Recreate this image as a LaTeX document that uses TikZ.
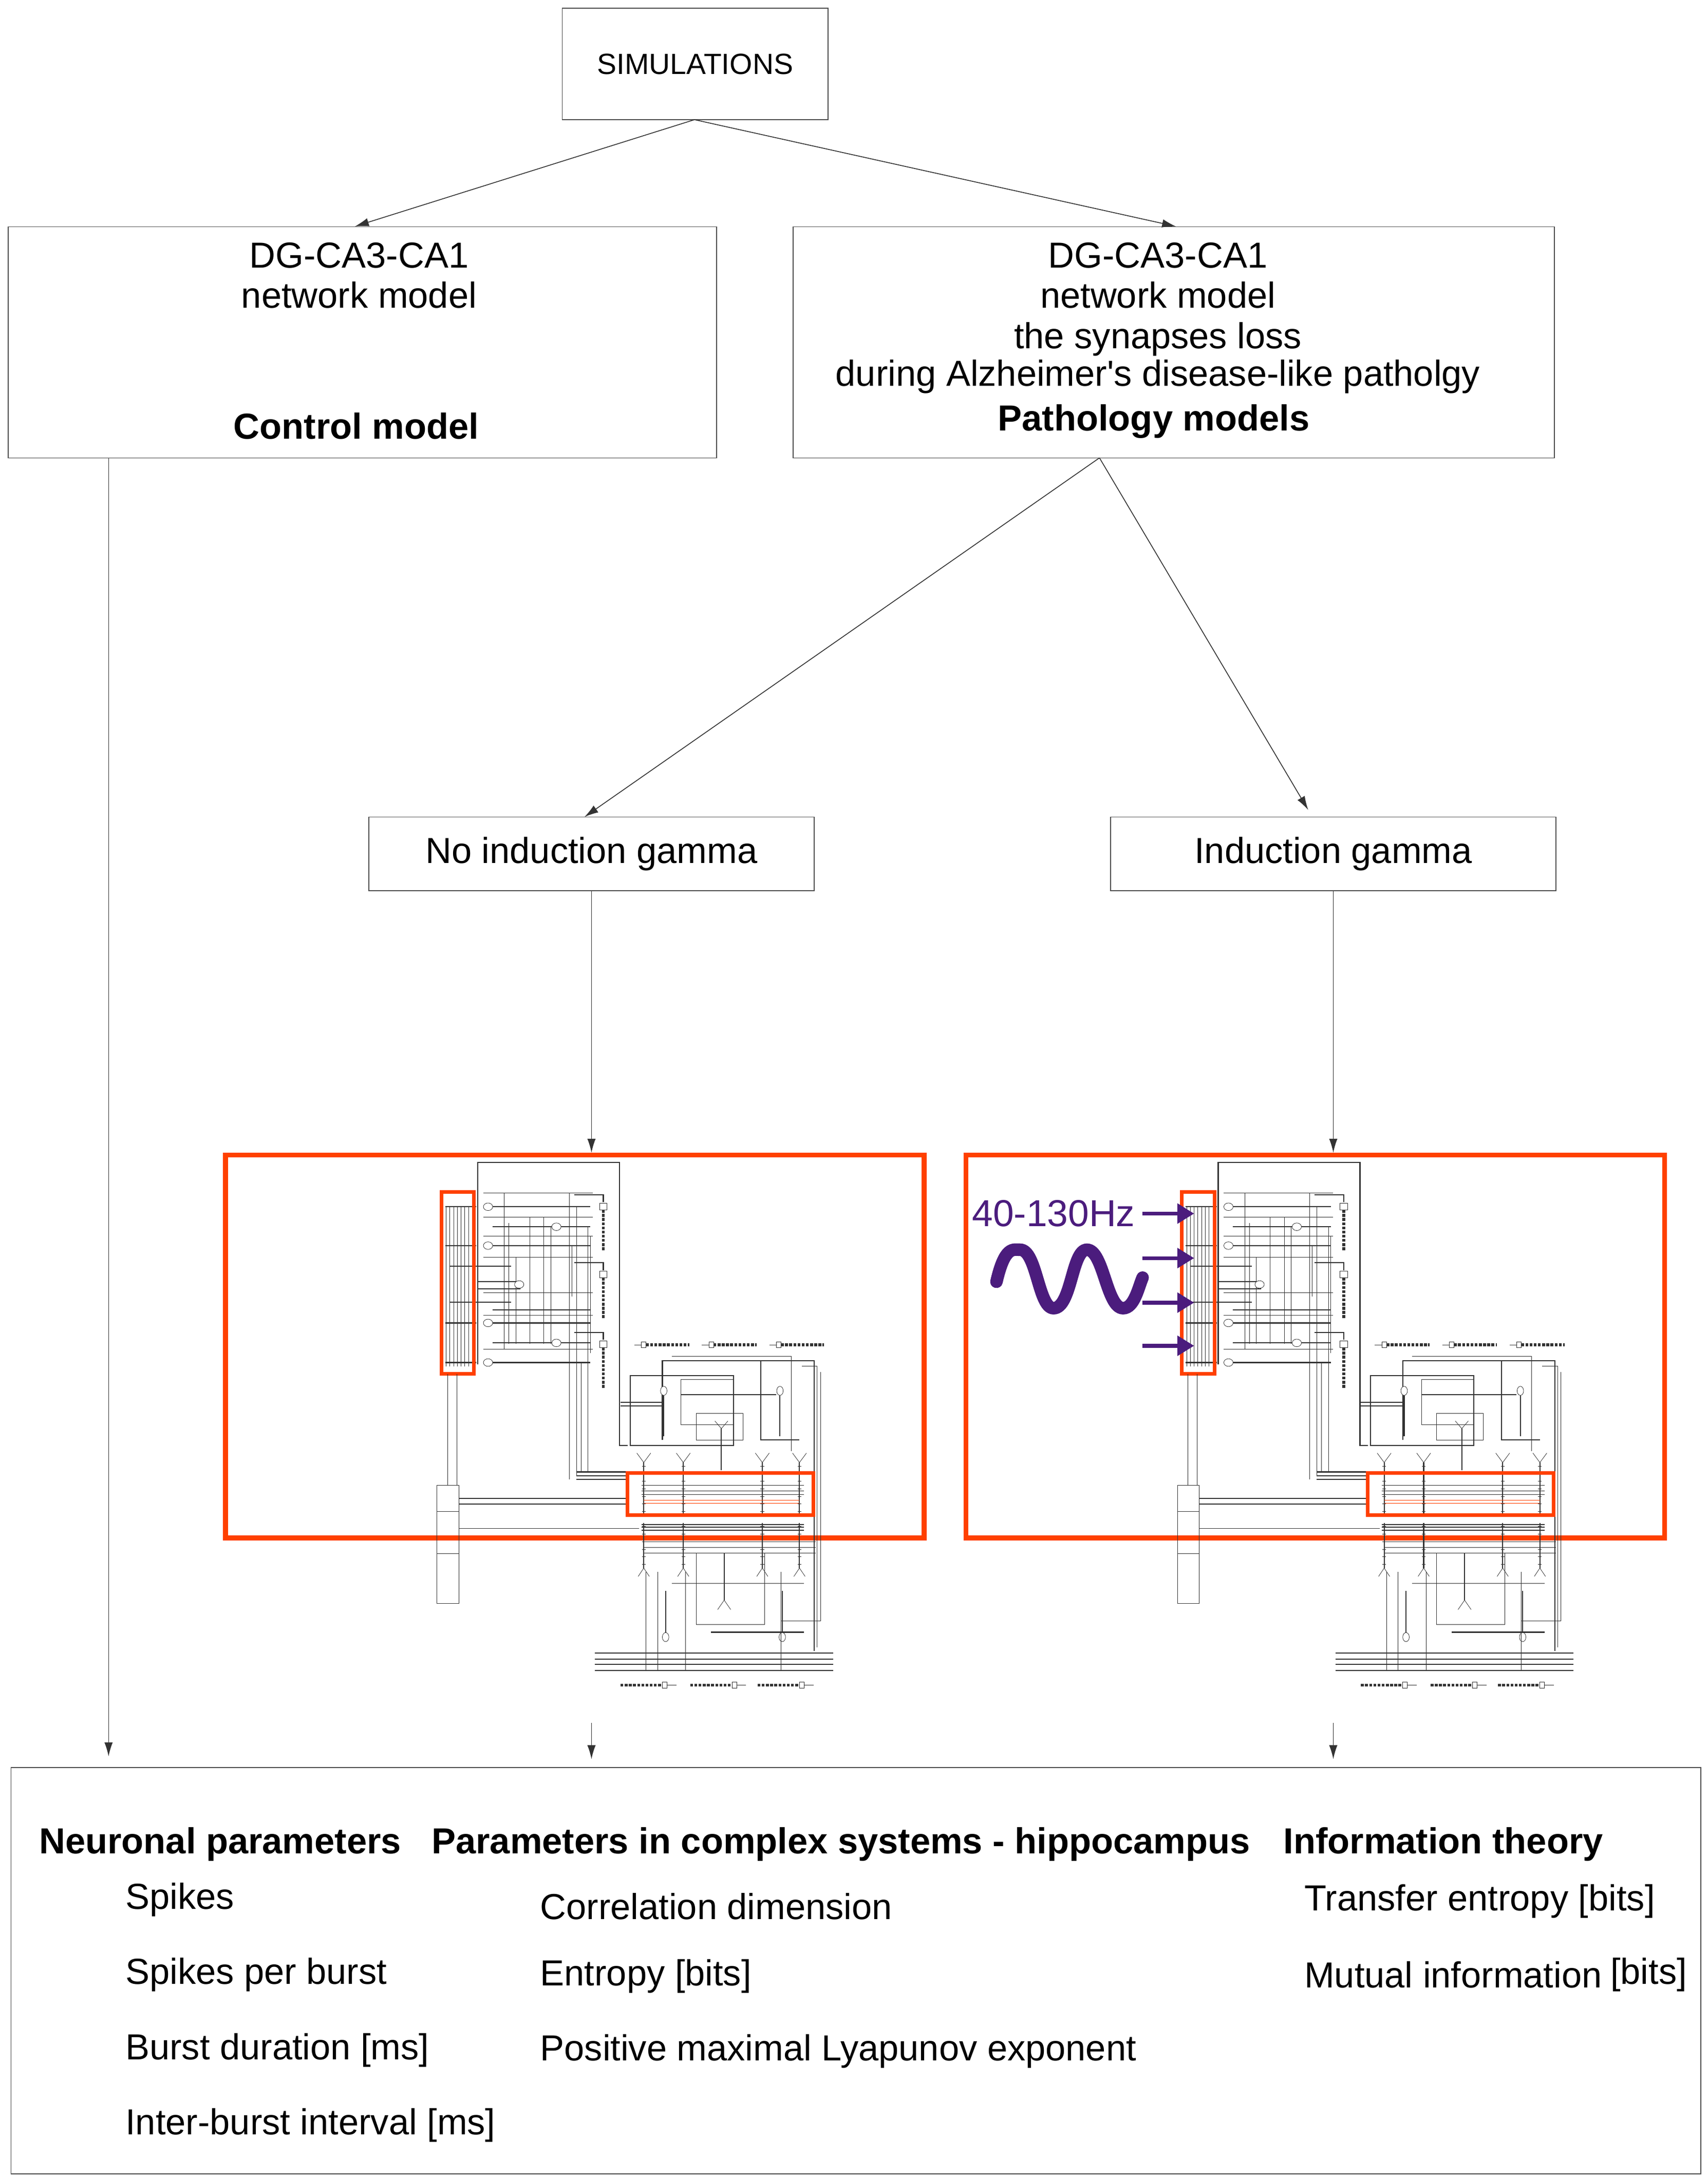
\documentclass[tikz,border=0pt]{standalone}
\usepackage{fontspec}
\setmainfont{Liberation Sans}
\usetikzlibrary{arrows.meta,positioning}
\definecolor{netred}{HTML}{FF4000}
\definecolor{gammapurple}{HTML}{4B1C7D}
\definecolor{netgray}{HTML}{333333}
\tikzset{
  box/.style = {draw=black!70, line width=0.6pt, rectangle},
  label/.style = {font=\fontsize{26}{29}\selectfont, align=center, inner sep=0pt},
  item/.style = {font=\fontsize{26}{29}\selectfont, anchor=west, inner sep=0pt},
  head/.style = {font=\fontsize{26}{29}\selectfont\bfseries, anchor=west, inner sep=0pt},
  flow/.style = {->, line width=0.6pt, draw=black!80},
  thinnet/.style = {draw=netgray, line width=0.3pt},
  thicknet/.style = {draw=netgray, line width=0.8pt},
  frame/.style = {draw=netred, line width=3.5pt},
  subframe/.style = {draw=netred, line width=2.6pt},
}
% sketch of the hippocampal network, in zoom units
\newcommand{\hipnet}{%
  \draw[thicknet] (548,600) -- (548,65) -- (853,65) -- (853,815) -- (870,815);
  % DG column
  \foreach \x in {480,488,...,528} \draw[thinnet] (\x,180) -- (\x,605);
  \foreach \y in {182,285,490,595} \draw[thicknet] (478,\y) -- (545,\y);
  \foreach \y in {340,435} \draw[thicknet] (488,\y) -- (620,\y);
  \foreach \y in {182,235,285,455,490,543,595}
    \draw[thicknet] (580,\y) -- (790,\y);
  \foreach \y in {145,210,260,315,410,470,560}
    \draw[thinnet] (560,\y) -- (795,\y);
  \foreach \x/\a/\b in {605/145/560,615/225/545,630/315/545,660/210/545,690/210/545,
                         705/235/545,745/145/905,760/182/895,770/595/885,785/235/885,
                         790/260/570,750/285/420}
    \draw[thinnet] (\x,\a) -- (\x,\b);
  \foreach \y in {380,400} \draw[thicknet] (548,\y) -- (640,\y);
  \foreach \x/\y in {570/182,570/285,570/490,570/595,717/235,637/388,717/543}
    \draw[thinnet, fill=white] (\x,\y) circle (10);
  \foreach \y in {150,330,515} {
    \draw[thicknet] (755,\y) -- (818,\y) -- (818,\y+20);
    \draw[thinnet, fill=white] (810,\y+22) rectangle (826,\y+40);
    \draw[draw=netgray, line width=2.2pt, dash pattern=on 2pt off 1pt] (818,\y+40) -- (818,\y+148);
  }
  \draw[subframe] (470,143) rectangle (540,625);
  % column of the entorhinal input
  \foreach \x in {483,503} \draw[thinnet] (\x,625) -- (\x,920);
  \draw[thinnet] (460,920) rectangle (507,1233);
  \foreach \y in {990,1102} \draw[thinnet] (460,\y) -- (507,\y);
  \foreach \y in {955,970} \draw[thicknet] (507,\y) -- (870,\y);
  \draw[thinnet] (507,1035) -- (895,1035);
  \foreach \y in {885,895,905} \draw[thicknet] (760,\y) -- (870,\y);
  % CA3 and CA1
  \draw[thicknet] (876,630) rectangle (1098,815);
  \draw[thicknet] (945,800) -- (945,590) -- (1272,590) -- (1272,1360);
  \draw[thinnet] (965,578) -- (1222,578) -- (1222,830);
  \draw[thicknet] (1157,590) -- (1157,800) -- (1240,800);
  \draw[thinnet] (1285,620) -- (1285,1280) -- (1200,1280);
  \draw[thinnet] (1245,605) -- (1278,605) -- (1278,1350);
  \draw[thicknet] (985,680) -- (1190,680);
  \draw[thinnet] (985,640) rectangle (1098,760);
  \draw[thinnet] (1018,730) rectangle (1118,800);
  \draw[thicknet] (855,700) -- (945,700);
  \draw[thicknet] (855,710) -- (945,710);
  \foreach \y in {920,935,945} \draw[thinnet] (900,\y) -- (1250,\y);
  \foreach \y in {1025,1032,1040} \draw[thicknet] (900,\y) -- (1250,\y);
  \foreach \y in {1070,1085,1100} \draw[thinnet] (905,\y) -- (1275,\y);
  \foreach \x in {905,990,1160,1240} {
    \draw[thicknet] (\x,860) -- (\x,1000);
    \draw[thicknet] (\x,1020) -- (\x,1140);
    \draw[thinnet] (\x-15,835) -- (\x,860) -- (\x+15,835);
    \draw[thinnet] (\x-12,1162) -- (\x,1140) -- (\x+12,1162);
    \foreach \y in {870,890,...,990} \draw[thinnet] (\x-4,\y) -- (\x+4,\y);
    \foreach \y in {1030,1050,...,1130} \draw[thinnet] (\x-4,\y) -- (\x+4,\y);
  }
  \foreach \x/\y/\e in {948/670/790,1198/670/790,952/1323/1200,1203/1323/1200} {
    \draw[thicknet] (\x,\y) -- (\x,\e);
    \draw[thinnet, fill=white] (\x,\y) ellipse (7 and 12);
  }
  \draw[thicknet] (1072,770) -- (1072,880);
  \draw[thinnet] (1058,750) -- (1072,770) -- (1086,750);
  \draw[thicknet] (1078,1100) -- (1078,1225);
  \draw[thinnet] (1064,1250) -- (1078,1225) -- (1092,1250);
  \foreach \x in {910,935,995,1200} \draw[thinnet] (\x,1150) -- (\x,1412);
  \draw[thinnet] (1018,1100) rectangle (1165,1290);
  \draw[thinnet] (965,1180) -- (1250,1180);
  \draw[thicknet] (1050,1310) -- (1250,1310);
  \foreach \y in {1365,1382,1395,1412} \draw[thicknet] (800,\y) -- (1312,\y);
  \foreach \x in {885,1030,1175} {
    \draw[thinnet] (\x,548) -- (\x+20,548);
    \draw[thinnet, fill=white] (\x+15,540) rectangle (\x+25,556);
    \draw[draw=netgray, line width=2pt, dash pattern=on 2pt off 1pt] (\x+25,548) -- (\x+118,548);
  }
  \foreach \x in {855,1005,1150} {
    \draw[draw=netgray, line width=2pt, dash pattern=on 2pt off 1pt] (\x,1450) -- (\x+90,1450);
    \draw[thinnet, fill=white] (\x+90,1442) rectangle (\x+100,1458);
    \draw[thinnet] (\x+100,1450) -- (\x+120,1450);
  }
  \draw[subframe] (870,888) rectangle (1270,1000);
  \foreach \y in {960,968} \draw[draw=netred, line width=0.5pt] (905,\y) -- (1240,\y);
}

\begin{document}
\begin{tikzpicture}[x=1pt, y=-1pt, >={Latex[length=10pt,width=6pt]}]
  \useasboundingbox[fill=white] (0,0) rectangle (1227,1565);
  % the boxes of the flow
  \node[box, minimum width=191pt, minimum height=80pt, label, font=\fontsize{21}{29}\selectfont] (sim) at (499.5,46) {SIMULATIONS};
  \node[box, minimum width=509pt, minimum height=166pt] (control) at (260.5,246) {};
  \node[label, anchor=north] (controltxt) at (258,174) {DG-CA3-CA1\\network model};
  \node[label, font=\fontsize{26}{29}\selectfont\bfseries] (controlname) at (256,306) {Control model};
  \node[box, minimum width=547pt, minimum height=166pt] (patho) at (843.5,246) {};
  \node[label, anchor=north] (pathotxt) at (832,174)
    {DG-CA3-CA1\\network model\\the synapses loss\\[-2pt]during Alzheimer\textquotesingle s disease-like patholgy};
  \node[label, font=\fontsize{26}{29}\selectfont\bfseries] (pathoname) at (829,303) {Pathology models};
  \node[box, minimum width=320pt, minimum height=53pt, label] (nogamma) at (425,613.5) {No induction gamma};
  \node[box, minimum width=320pt, minimum height=53pt, label] (gamma) at (958,613.5) {Induction gamma};
  \node[box, minimum width=1214pt, minimum height=292pt] (params) at (615,1416) {};

  \coordinate (simout) at (499,86);
  \coordinate (pathoout) at (790,329);
  \draw[flow] (simout) -- (control.north -| 255,0);
  \draw[flow] (simout) -- (patho.north -| 845,0);
  \draw[flow] (pathoout) -- (420,587);
  \draw[flow] (pathoout) -- (940,582);

  % the network pictures
  \node[frame, minimum width=502pt, minimum height=275pt] (netA) at (413,967.5) {};
  \node[frame, minimum width=502pt, minimum height=275pt] (netB) at (945,967.5) {};
  \begin{scope}[shift={(160.3,817.8)}, x=0.334pt, y=-0.271pt]
    \hipnet
  \end{scope}
  \begin{scope}[shift={(692.3,817.8)}, x=0.334pt, y=-0.271pt]
    \hipnet
  \end{scope}
  \draw[flow] (nogamma.south) -- (netA.north -| nogamma.south);
  \draw[flow] (gamma.south) -- (netB.north -| gamma.south);

  % gamma stimulation
  \node[font=\fontsize{27}{30}\selectfont, text=gammapurple, inner sep=0pt] (freq) at (757,872) {40-130Hz};
  \draw[draw=gammapurple, line width=9pt, line cap=round]
    (716,921) .. controls (722,895) and (728,898) .. (733,898)
    .. controls (745,898) and (746,940) .. (757,940)
    .. controls (770,940) and (770,898) .. (781,898)
    .. controls (793,898) and (795,940) .. (807,940)
    .. controls (815,940) and (818,925) .. (821,918);
  \foreach \y [count=\i] in {872,904,936,967}
    \draw[draw=gammapurple, line width=2.7pt, -{Triangle[length=12pt,width=14pt]}]
      (821,\y) coordinate (stim\i) -- (858,\y);

  % arrows to the parameters
  \coordinate (leftdown) at (78,1262);
  \draw[flow] (control.south -| 78,0) -- (leftdown);
  \coordinate (midtop) at (425,1238);
  \coordinate (righttop) at (958,1238);
  \draw[flow] (midtop) -- (425,1264);
  \draw[flow] (righttop) -- (958,1264);

  % parameters
  \node[head] (neuro) at (28,1325) {Neuronal parameters};
  \node[head] (cplx) at (310,1325) {Parameters in complex systems - hippocampus};
  \node[head] (info) at (922,1325) {Information theory};
  \node[item] (spk) at (90,1365) {Spikes};
  \node[item] (spb) at (90,1419) {Spikes per burst};
  \node[item] (bdur) at (90,1473) {Burst duration [ms]};
  \node[item] (ibi) at (90,1527) {Inter-burst interval [ms]};
  \node[item] (cdim) at (388,1370) {Correlation dimension};
  \node[item] (ent) at (388,1420) {Entropy [bits]};
  \node[item] (lyap) at (388,1474) {Positive maximal Lyapunov exponent};
  \node[item] (te) at (937,1366) {Transfer entropy [bits]};
  \node[item] (mi) at (937,1419) {Mutual information};
  \node[item] (mibits) at (1157,1419) {[bits]};
\end{tikzpicture}
\end{document}
